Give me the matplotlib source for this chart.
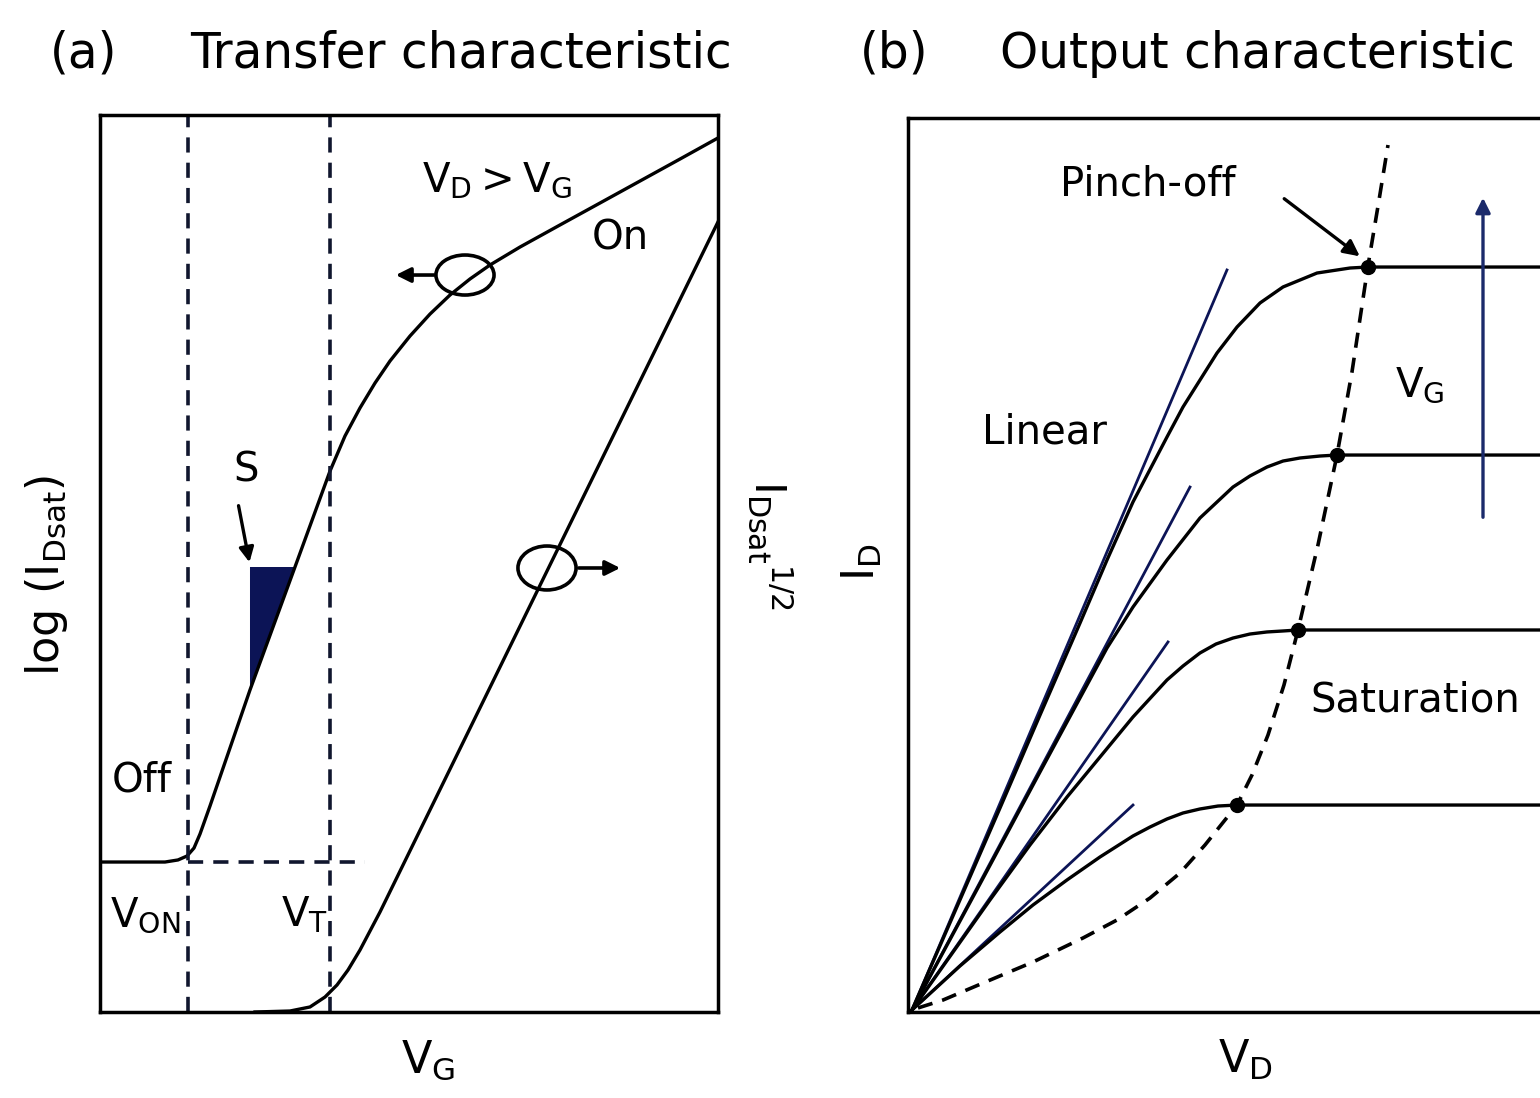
import matplotlib
matplotlib.use("Agg")
import matplotlib.pyplot as plt
from matplotlib.patches import Ellipse

# ---- (a) transfer characteristic (arbitrary units, 0..10) ----
vg_log = [0.00, 1.052, 1.262, 1.408, 1.521, 1.618, 1.780, 2.427, 3.155, 3.722,
          3.964, 4.207, 4.450, 4.693, 5.016, 5.340, 5.663, 5.987, 6.311, 6.796,
          7.443, 8.091, 8.738, 9.385, 10.0]
log_id = [1.672, 1.672, 1.695, 1.739, 1.828, 1.984, 2.297, 3.590, 4.961, 6.031,
          6.421, 6.734, 7.012, 7.258, 7.536, 7.781, 7.993, 8.172, 8.328, 8.528,
          8.774, 9.019, 9.264, 9.509, 9.744]

vg_sqrt = [2.508, 3.074, 3.398, 3.641, 3.835, 4.013, 4.207, 4.531, 10.0]
sqrt_id = [0.0, 0.011, 0.056, 0.167, 0.301, 0.468, 0.691, 1.115, 8.808]

v_on = 1.424
v_t = 3.722
off_level = 1.672
off_dash_end = 4.288

s_tri_x = [2.427, 3.155, 2.427]
s_tri_y = [4.961, 4.961, 3.590]

# ---- (b) output characteristic ----
vd_1 = [0.063, 1.456, 2.089, 2.722, 3.149, 3.560, 4.098, 4.351, 4.620, 4.889, 5.206,
        5.570, 5.934, 6.472, 6.994, 7.278, 10.0]
id_1 = [0.022, 2.282, 3.322, 4.351, 5.056, 5.705, 6.432, 6.767, 7.069, 7.371, 7.662,
        7.931, 8.110, 8.266, 8.322, 8.333, 8.333]
vd_2 = [0.063, 1.139, 2.089, 3.149, 3.560, 4.098, 4.620, 5.142, 5.411, 5.680, 5.934,
        6.203, 6.519, 6.788, 10.0]
id_2 = [0.022, 1.432, 2.685, 4.072, 4.530, 5.056, 5.526, 5.872, 5.996, 6.096, 6.163,
        6.197, 6.219, 6.230, 6.230]
vd_3 = [0.063, 1.297, 1.930, 2.516, 3.038, 3.560, 4.098, 4.351, 4.620, 4.873, 5.142,
        5.411, 5.680, 5.934, 6.171, 10.0]
id_3 = [0.022, 1.253, 1.868, 2.405, 2.852, 3.300, 3.714, 3.870, 4.016, 4.116, 4.183,
        4.228, 4.251, 4.262, 4.273, 4.273]
vd_4 = [0.063, 0.823, 1.456, 1.978, 2.516, 3.038, 3.560, 3.829, 4.098, 4.351, 4.620,
        4.905, 5.206, 10.0]
id_4 = [0.022, 0.515, 0.895, 1.197, 1.477, 1.734, 1.969, 2.069, 2.159, 2.226, 2.271,
        2.304, 2.315, 2.315]
curves_b = [(vd_1, id_1), (vd_2, id_2), (vd_3, id_3), (vd_4, id_4)]

# linear-region tangents (end points, they all start at the origin)
tan_end_vd = [5.047, 4.462, 4.114, 3.560]
tan_end_id = [8.300, 5.872, 4.139, 2.315]
origin = (0.063, 0.022)

# pinch-off locus
pinch_vd = [0.158, 0.554, 1.187, 1.978, 2.769, 3.307, 3.829, 4.304, 4.699, 5.016, 5.206,
            5.443, 5.696, 5.949, 6.171, 6.487, 6.788, 7.025, 7.278, 7.453, 7.595]
pinch_id = [0.045, 0.134, 0.324, 0.559, 0.828, 1.029, 1.275, 1.555, 1.868, 2.148, 2.315,
            2.651, 3.098, 3.658, 4.273, 5.224, 6.230, 7.159, 8.345, 9.083, 9.698]
pinch_pts_vd = [5.206, 6.171, 6.788, 7.278]
pinch_pts_id = [2.315, 4.273, 6.230, 8.333]

W, H = 1540, 1098
NAVY = "#0c1456"
DASH = (0, (4.2, 2.8))

plt.rcParams["font.family"] = ["DejaVu Sans"]
plt.rcParams["mathtext.default"] = "regular"

fig = plt.figure(figsize=(W / 100, H / 100), dpi=100)


def px_axes(x0, y0, x1, y1):
    return fig.add_axes([x0 / W, 1 - y1 / H, (x1 - x0) / W, (y1 - y0) / H])


def txt(x, y, s, size=29, **kw):
    fig.text(x / W, 1 - y / H, s, fontsize=size, ha=kw.pop("ha", "center"),
             va=kw.pop("va", "center"), **kw)


# ------------------------------------------------------------ panel (a)
ax = px_axes(100, 115, 718, 1012)
ax.set_xlim(0, 10)
ax.set_ylim(0, 10)
ax.set_xticks([])
ax.set_yticks([])
for sp in ax.spines.values():
    sp.set_linewidth(2.5)

ax.plot(vg_log, log_id, color="k", lw=2.4, solid_joinstyle="round")
ax.plot(vg_sqrt, sqrt_id, color="k", lw=2.4, solid_joinstyle="round")
ax.axvline(v_on, color="#10162e", lw=2.6, ls=DASH)
ax.axvline(v_t, color="#10162e", lw=2.6, ls=DASH)
ax.plot([v_on, off_dash_end], [off_level, off_level], color="#10162e", lw=2.6, ls=DASH)
ax.fill(s_tri_x, s_tri_y, color=NAVY, lw=0)

ax.annotate("", xy=(2.427, 4.983), xytext=(2.233, 5.675),
            arrowprops=dict(arrowstyle="-|>", color="k", lw=2.4, mutation_scale=22))
ax.add_patch(Ellipse((5.906, 8.216), 0.94, 0.446, fill=False, lw=2.6, ec="k"))
ax.annotate("", xy=(4.741, 8.216), xytext=(5.453, 8.216),
            arrowprops=dict(arrowstyle="-|>", color="k", lw=2.6, mutation_scale=22))
ax.add_patch(Ellipse((7.233, 4.950), 0.94, 0.49, fill=False, lw=2.6, ec="k"))
ax.annotate("", xy=(8.463, 4.950), xytext=(7.702, 4.950),
            arrowprops=dict(arrowstyle="-|>", color="k", lw=2.6, mutation_scale=22))

# ------------------------------------------------------------ panel (b)
bx = px_axes(908, 118, 1540, 1012)
bx.set_xlim(0, 10)
bx.set_ylim(0, 10)
bx.set_xticks([])
bx.set_yticks([])
for sp in bx.spines.values():
    sp.set_linewidth(2.5)
bx.spines["right"].set_visible(False)

for ex, ey in zip(tan_end_vd, tan_end_id):
    bx.plot([origin[0], ex], [origin[1], ey], color=NAVY, lw=2.0)
for vd, idd in curves_b:
    bx.plot(vd, idd, color="k", lw=2.4, solid_joinstyle="round")
bx.plot(pinch_vd, pinch_id, color="k", lw=2.6, ls=DASH)
bx.plot(pinch_pts_vd, pinch_pts_id, "o", color="k", ms=10)

bx.annotate("", xy=(9.098, 9.139), xytext=(9.098, 5.503),
            arrowprops=dict(arrowstyle="-|>", color="#1b2a6b", lw=2.4, mutation_scale=22))
bx.annotate("", xy=(7.184, 8.434), xytext=(5.918, 9.116),
            arrowprops=dict(arrowstyle="-|>", color="k", lw=2.4, mutation_scale=24))

# ------------------------------------------------------------ text
txt(50, 68, "(a)", size=35, ha="left", va="baseline")
txt(190, 68, "Transfer characteristic", size=35, ha="left", va="baseline")
txt(860, 68, "(b)", size=35, ha="left", va="baseline")
txt(1000, 68, "Output characteristic", size=35, ha="left", va="baseline")

txt(497, 180, r"$V_D > V_G$")
txt(620, 238, "On")
txt(142, 780, "Off")
txt(145, 915, r"$V_{ON}$")
txt(305, 915, r"$V_T$")
txt(246, 470, "S")

txt(46, 575, r"$log\ (I_{Dsat})$", size=32, rotation=90)
txt(770, 545, r"$I_{Dsat}{}^{1/2}$", size=31, rotation=-90)
txt(428, 1060, r"$V_G$", size=32)

txt(862, 562, r"$I_D$", size=32, rotation=90)
txt(1245, 1060, r"$V_D$", size=32)
txt(1148, 185, "Pinch-off")
txt(1045, 432, "Linear")
txt(1420, 385, r"$V_G$")
txt(1415, 700, "Saturation")

fig.savefig("out.png", dpi=100)
